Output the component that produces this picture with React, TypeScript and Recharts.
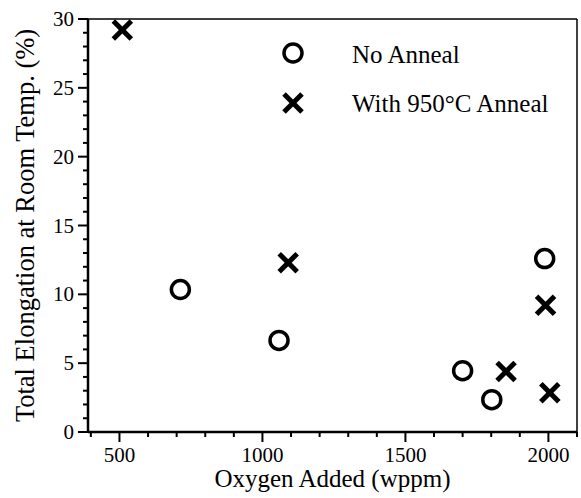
import React from 'react';
import {
  ReferenceLine,
  Scatter,
  ScatterChart,
  XAxis,
  YAxis,
} from 'recharts';

const noAnneal = [
  { oxygen: 713, elongation: 10.35 },
  { oxygen: 1058, elongation: 6.65 },
  { oxygen: 1700, elongation: 4.45 },
  { oxygen: 1802, elongation: 2.35 },
  { oxygen: 1987, elongation: 12.6 },
];

const withAnneal = [
  { oxygen: 510, elongation: 29.2 },
  { oxygen: 1090, elongation: 12.3 },
  { oxygen: 1852, elongation: 4.4 },
  { oxygen: 1990, elongation: 9.2 },
  { oxygen: 2005, elongation: 2.85 },
];

const xTicks = [400, 500, 600, 700, 800, 900, 1000, 1100, 1200, 1300, 1400, 1500, 1600, 1700, 1800, 1900, 2000, 2100];
const yTicks = Array.from({ length: 31 }, (_, i) => i);

const FONT = '"Liberation Serif", "Times New Roman", serif';

const Circle = (p: any) => (
  <circle cx={p.cx} cy={p.cy} r={9} fill="none" stroke="#000" strokeWidth={3.5} />
);

const Cross = (p: any) => {
  const s = 9;
  return (
    <g stroke="#000" strokeWidth={5} strokeLinecap="butt">
      <line x1={p.cx - s} y1={p.cy - s} x2={p.cx + s} y2={p.cy + s} />
      <line x1={p.cx - s} y1={p.cy + s} x2={p.cx + s} y2={p.cy - s} />
    </g>
  );
};

const XTick = (p: any) => {
  const v = p.payload.value;
  const major = v % 500 === 0;
  return (
    <g>
      <line x1={p.x} x2={p.x} y1={p.y} y2={p.y + (major ? 10 : 5)} stroke="#000" strokeWidth={2} />
      {major && v >= 500 && v <= 2000 && (
        <text x={p.x} y={p.y + 30} textAnchor="middle" fontSize={21} fontFamily={FONT} fill="#000">
          {v}
        </text>
      )}
    </g>
  );
};

const YTick = (p: any) => {
  const v = p.payload.value;
  const major = v % 5 === 0;
  return (
    <g>
      <line x1={p.x - (major ? 10 : 5)} x2={p.x} y1={p.y} y2={p.y} stroke="#000" strokeWidth={2} />
      {major && (
        <text x={p.x - 14} y={p.y + 7} textAnchor="end" fontSize={21} fontFamily={FONT} fill="#000">
          {v}
        </text>
      )}
    </g>
  );
};

const XLabel = (p: any) => {
  const vb = p.viewBox;
  return (
    <text x={vb.x + vb.width / 2} y={487} textAnchor="middle" fontSize={25} fontFamily={FONT} fill="#000">
      Oxygen Added (wppm)
    </text>
  );
};

const YLabel = (p: any) => {
  const vb = p.viewBox;
  const cy = vb.y + vb.height / 2;
  return (
    <text x={34} y={cy} transform={`rotate(-90 34 ${cy})`} textAnchor="middle" fontSize={26.5} fontFamily={FONT} fill="#000">
      Total Elongation at Room Temp. (%)
    </text>
  );
};

export default function App() {
  return (
    <div style={{ position: 'absolute', left: 0, top: 0, width: 581, height: 498, background: '#fff' }}>
      <ScatterChart width={581} height={498} margin={{ top: 19, right: 4, left: 0, bottom: 0 }}>
        <XAxis
          type="number"
          dataKey="oxygen"
          domain={[390, 2100]}
          ticks={xTicks}
          interval={0}
          height={66}
          tickSize={0}
          tickMargin={0}
          tick={<XTick />}
          axisLine={{ stroke: '#000', strokeWidth: 2.5 }}
          label={<XLabel />}
        />
        <YAxis
          type="number"
          dataKey="elongation"
          domain={[0, 30]}
          ticks={yTicks}
          interval={0}
          width={88}
          tickSize={0}
          tickMargin={0}
          tick={<YTick />}
          axisLine={{ stroke: '#000', strokeWidth: 2.5 }}
          label={<YLabel />}
        />
        <ReferenceLine y={30} stroke="#000" strokeWidth={1.5} />
        <ReferenceLine x={2100} stroke="#000" strokeWidth={1.5} />
        <Scatter name="No Anneal" data={noAnneal} shape={<Circle />} isAnimationActive={false} />
        <Scatter name="With 950°C Anneal" data={withAnneal} shape={<Cross />} isAnimationActive={false} />
      </ScatterChart>
      <svg width={300} height={90} style={{ position: 'absolute', left: 280, top: 30 }}>
        <Circle cx={13} cy={23} />
        <text x={72} y={33} fontSize={25} fontFamily={FONT} fill="#000">No Anneal</text>
        <Cross cx={13} cy={73} />
        <text x={72} y={82} fontSize={25} fontFamily={FONT} fill="#000">With 950°C Anneal</text>
      </svg>
    </div>
  );
}
